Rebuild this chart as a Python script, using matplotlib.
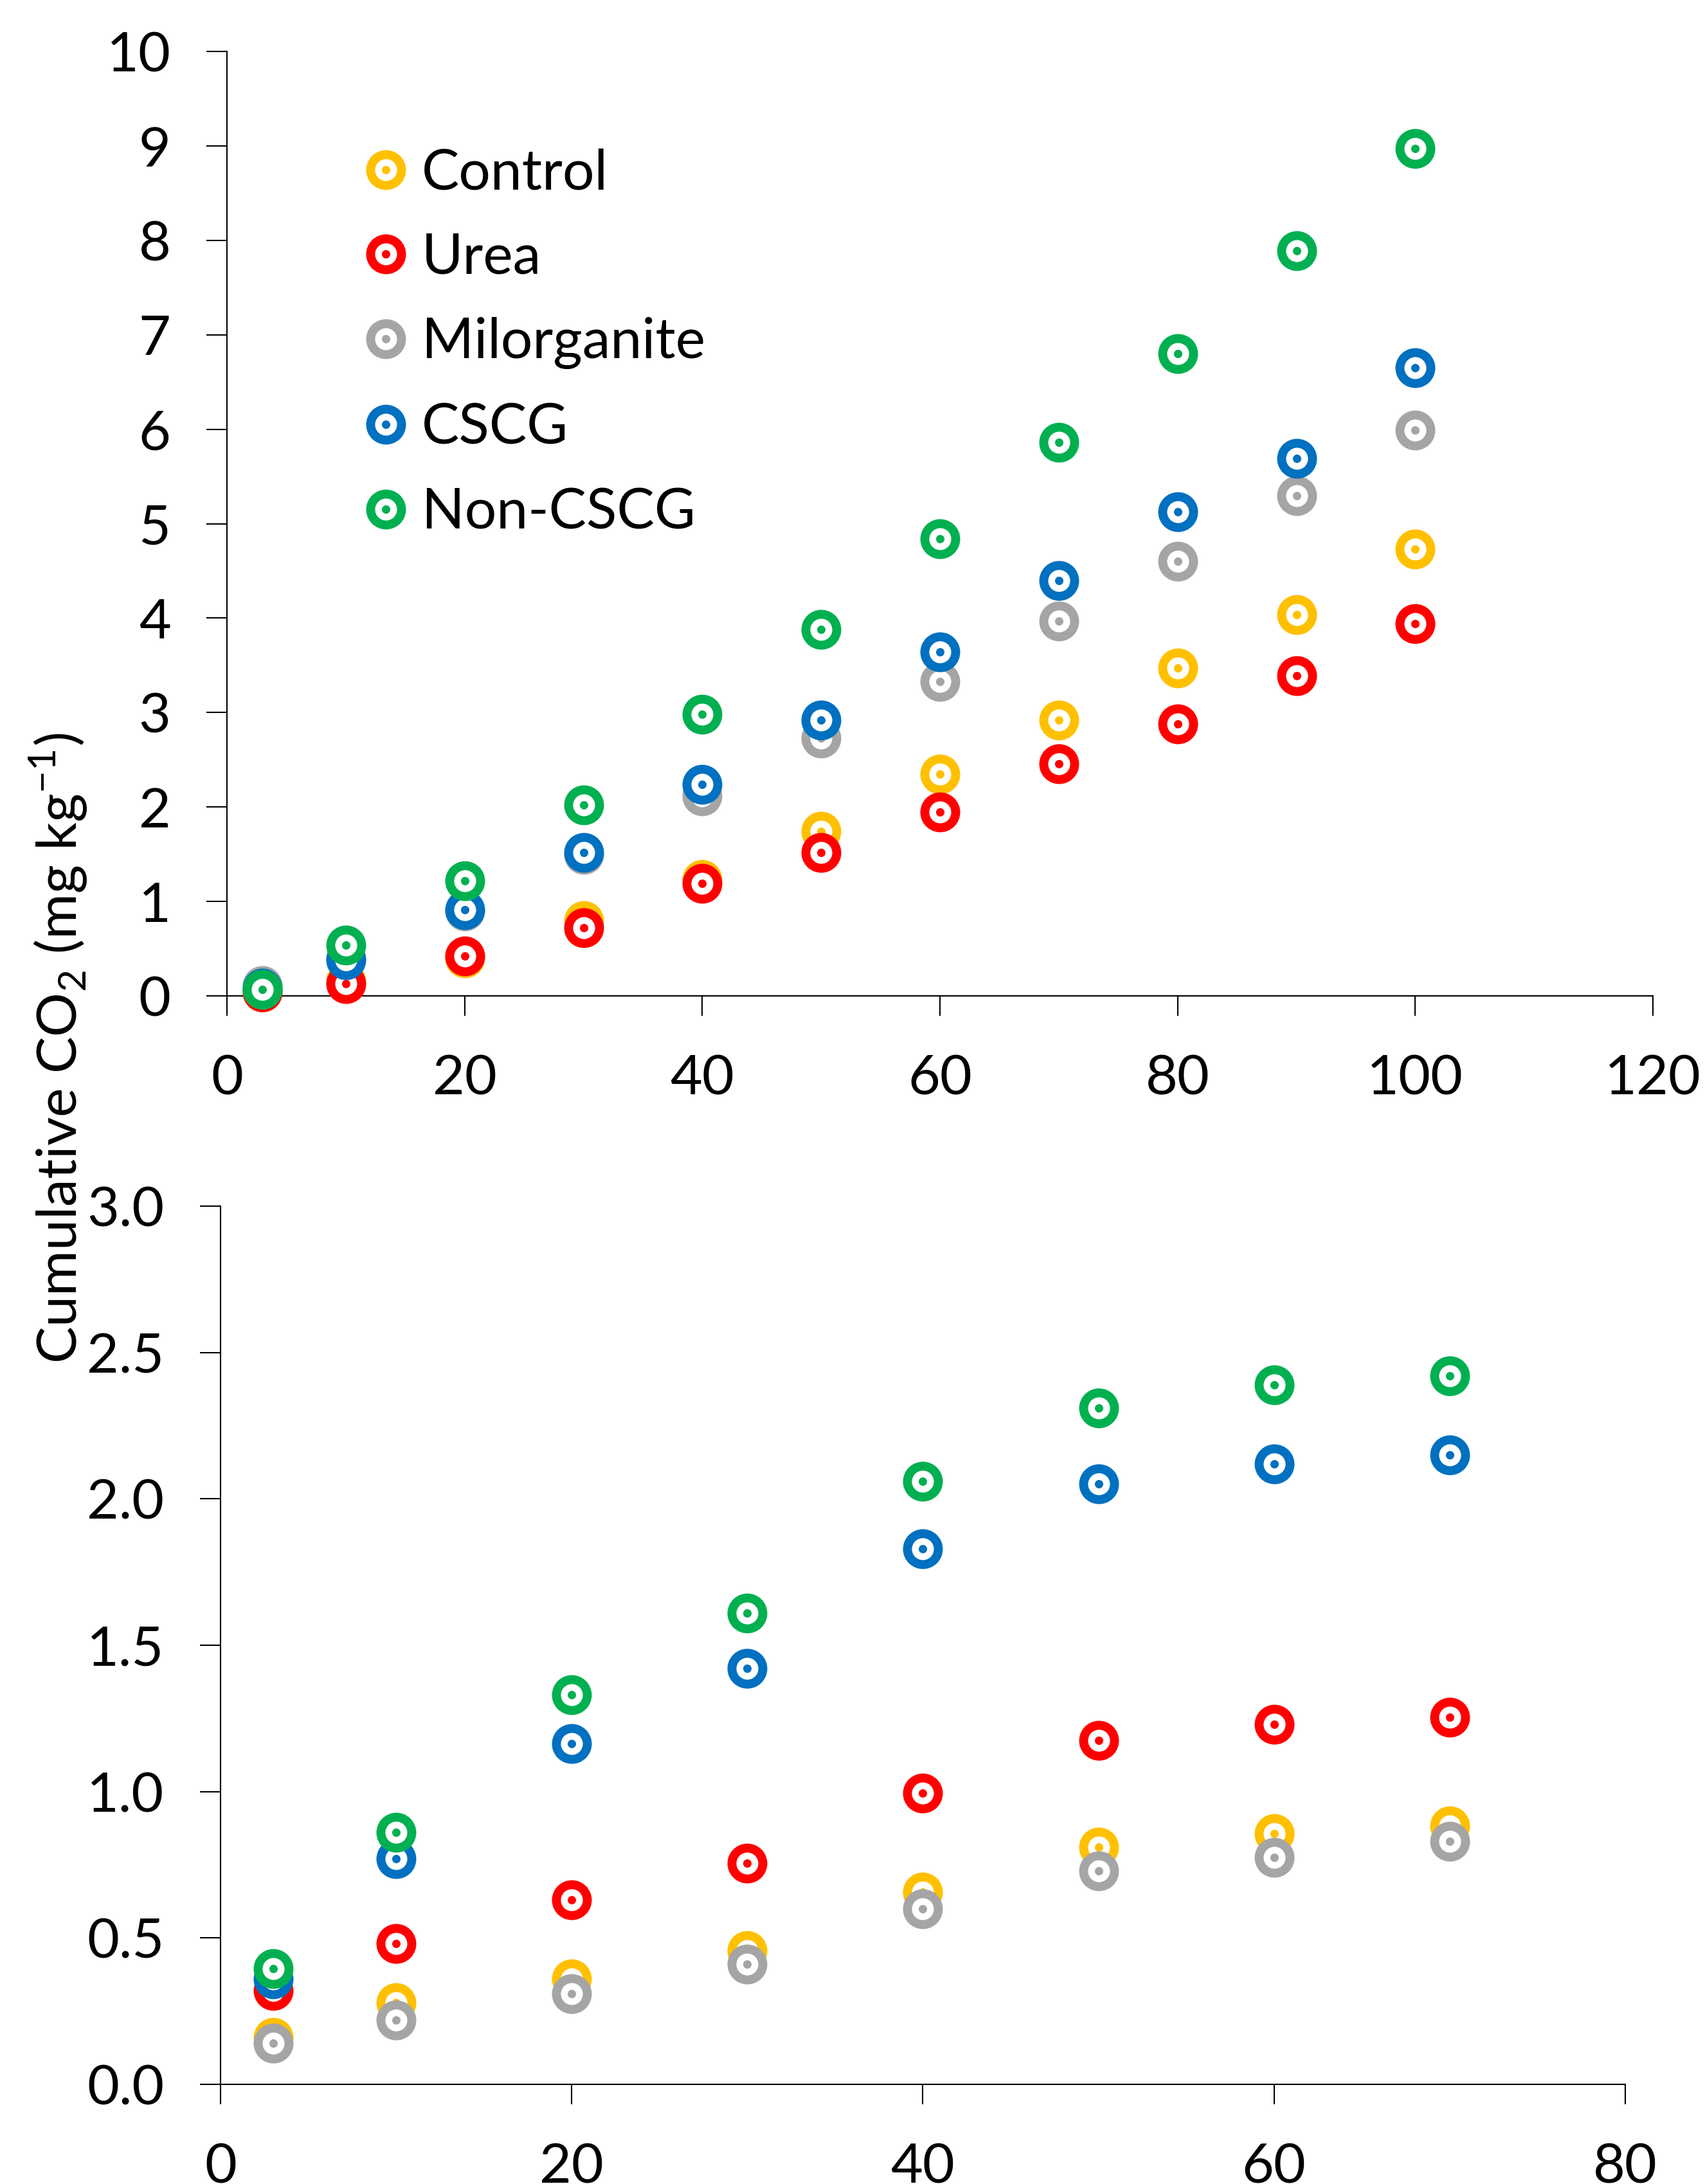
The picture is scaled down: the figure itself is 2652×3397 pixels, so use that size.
import matplotlib
matplotlib.use("Agg")
import matplotlib.pyplot as plt
from matplotlib.ticker import MultipleLocator, FormatStrFormatter

plt.rcParams['font.family'] = ['Lato', 'DejaVu Sans']
plt.rcParams['mathtext.fontset'] = 'custom'
plt.rcParams['mathtext.rm'] = 'Lato'

# series names and colours
names = ['Control', 'Urea', 'Milorganite', 'CSCG', 'Non-CSCG']
colors = ['#FFC000', '#FF0000', '#A5A5A5', '#0070C0', '#00B050']

# top panel
days_top = [3, 10, 20, 30, 40, 50, 60, 70, 80, 90, 100]
top_control = [0.05, 0.16, 0.40, 0.80, 1.23, 1.74, 2.35, 2.92, 3.47, 4.04, 4.73]
top_urea = [0.04, 0.13, 0.42, 0.72, 1.19, 1.52, 1.95, 2.46, 2.88, 3.39, 3.94]
top_milorganite = [0.11, 0.40, 0.90, 1.50, 2.12, 2.73, 3.33, 3.97, 4.60, 5.30, 5.99]
top_cscg = [0.08, 0.38, 0.91, 1.52, 2.24, 2.92, 3.64, 4.40, 5.13, 5.69, 6.65]
top_noncscg = [0.07, 0.54, 1.22, 2.02, 2.98, 3.88, 4.84, 5.86, 6.80, 7.89, 8.97]

# bottom panel
days_bot = [3, 10, 20, 30, 40, 50, 60, 70]
bot_control = [0.16, 0.28, 0.36, 0.456, 0.656, 0.81, 0.856, 0.884]
bot_urea = [0.32, 0.48, 0.63, 0.756, 0.994, 1.175, 1.23, 1.255]
bot_milorganite = [0.14, 0.22, 0.31, 0.41, 0.60, 0.73, 0.775, 0.83]
bot_cscg = [0.36, 0.77, 1.165, 1.42, 1.83, 2.05, 2.12, 2.15]
bot_noncscg = [0.395, 0.86, 1.33, 1.61, 2.06, 2.31, 2.39, 2.42]

top_series = [top_control, top_urea, top_milorganite, top_cscg, top_noncscg]
bot_series = [bot_control, bot_urea, bot_milorganite, bot_cscg, bot_noncscg]

fig = plt.figure(figsize=(26.52, 33.97), dpi=100)
ax1 = fig.add_axes([0.1331, 0.5440, 0.9695 - 0.1331, 0.9764 - 0.5440])
ax2 = fig.add_axes([0.1293, 0.0456, 0.9532 - 0.1293, 0.4478 - 0.0456])


def draw(ax, x, series):
    handles = []
    for vals, c in zip(series, colors):
        ring, = ax.plot(x, vals, ls='none', marker='o', ms=34.6, mew=10,
                        mfc='white', mec=c, zorder=3, clip_on=False)
        dot, = ax.plot(x, vals, ls='none', marker='o', ms=9.4, mew=0,
                       mfc=c, zorder=3, clip_on=False)
        handles.append((ring, dot))
    return handles


def style(ax):
    for s in ['top', 'right']:
        ax.spines[s].set_visible(False)
    for s in ['left', 'bottom']:
        ax.spines[s].set_linewidth(1.5)
    ax.tick_params(axis='y', direction='out', length=23, width=1.5,
                   pad=40, labelsize=62)
    ax.tick_params(axis='x', direction='out', length=22, width=1.5,
                   pad=43, labelsize=62)


h = draw(ax1, days_top, top_series)
draw(ax2, days_bot, bot_series)

ax1.set_xlim(0, 120)
ax1.set_ylim(0, 10)
ax1.xaxis.set_major_locator(MultipleLocator(20))
ax1.yaxis.set_major_locator(MultipleLocator(1))
style(ax1)

ax2.set_xlim(0, 80)
ax2.set_ylim(0, 3.0)
ax2.xaxis.set_major_locator(MultipleLocator(20))
ax2.yaxis.set_major_locator(MultipleLocator(0.5))
ax2.yaxis.set_major_formatter(FormatStrFormatter('%.1f'))
style(ax2)

ax1.legend(h, names, loc='upper left', bbox_to_anchor=(0.213, 0.9322),
           bbox_transform=fig.transFigure, frameon=False, fontsize=63,
           numpoints=1, handlelength=0.8, handletextpad=0.24,
           labelspacing=0.60, borderpad=0, borderaxespad=0)

fig.text(0.0343, 0.520, 'Cumulative CO$_\\mathregular{2}$ (mg kg$^\\mathregular{-1}$)',
         rotation=90, ha='center', va='center', fontsize=62)

fig.savefig('out.png', dpi=100)
